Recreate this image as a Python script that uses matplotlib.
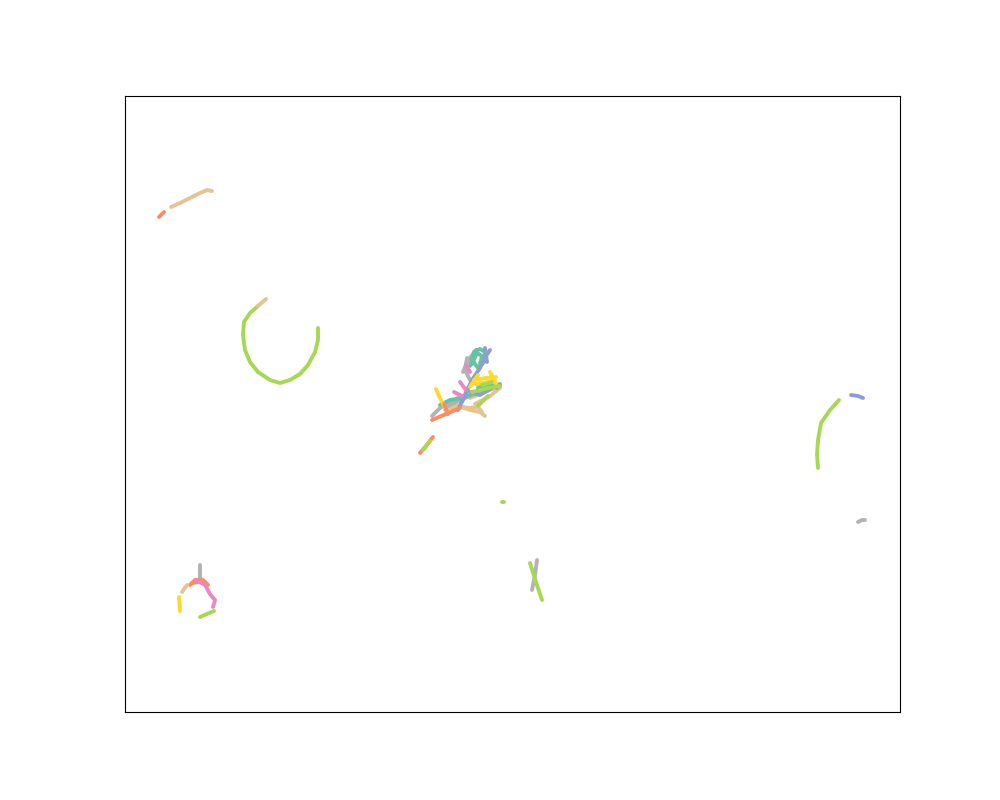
import matplotlib
matplotlib.use("Agg")
import matplotlib.pyplot as plt

# Set2 palette
palette = ["#66c2a5", "#fc8d62", "#8da0cb", "#e78ac3",
           "#a6d854", "#ffd92f", "#e5c494", "#b3b3b3"]
TEAL, ORANGE, BLUE, PINK, GREEN, YELLOW, TAN, GRAY = range(8)

# Track coordinates (x, y), y increasing downward as in the picture
tan_arc_top = [(171, 207), (180, 203), (190, 198), (200, 193), (207, 190), (212, 191)]
orange_top = [(159, 217), (164, 212)]
green_loop = [(318, 328), (318, 340), (315, 352), (308, 365), (300, 374), (290, 380),
              (280, 383), (270, 380), (258, 372), (250, 362), (245, 350), (243, 335),
              (244, 322), (250, 313), (258, 306)]
tan_loop_tip = [(258, 306), (266, 299)]

cluster_tracks = [
    (TAN, [(445, 410), (458, 406), (470, 410), (480, 412), (485, 416)]),
    (TAN, [(455, 405), (468, 408), (478, 407), (482, 412)]),
    (TAN, [(470, 398), (485, 392), (500, 386)]),
    (TAN, [(475, 404), (490, 396), (500, 388)]),
    (GRAY, [(467, 358), (465, 370), (470, 380), (478, 385)]),
    (GRAY, [(463, 372), (468, 360), (475, 352)]),
    (GRAY, [(432, 416), (440, 408), (450, 402), (458, 398)]),
    (GRAY, [(448, 406), (465, 398), (480, 392), (492, 386)]),
    (TEAL, [(470, 366), (474, 352), (480, 349), (485, 352), (484, 362), (478, 368), (472, 360), (476, 350)]),
    (TEAL, [(472, 364), (477, 353), (482, 356), (480, 364)]),
    (TEAL, [(440, 405), (450, 400), (462, 398), (470, 395)]),
    (TEAL, [(478, 388), (490, 384), (497, 388)]),
    (BLUE, [(458, 410), (465, 395), (472, 380), (480, 368), (486, 356), (490, 350)]),
    (BLUE, [(485, 348), (487, 362)]),
    (BLUE, [(462, 402), (468, 388), (475, 378)]),
    (BLUE, [(470, 392), (480, 395), (492, 388), (500, 384)]),
    (YELLOW, [(436, 389), (440, 398), (444, 406)]),
    (YELLOW, [(474, 380), (486, 378), (496, 377)]),
    (YELLOW, [(476, 384), (488, 382), (495, 380)]),
    (YELLOW, [(490, 372), (496, 384)]),
    (YELLOW, [(470, 387), (478, 375)]),
    (PINK, [(460, 382), (466, 390)]),
    (PINK, [(454, 392), (462, 396)]),
    (PINK, [(466, 365), (470, 372)]),
    (GREEN, [(472, 392), (488, 388), (500, 386)]),
    (GREEN, [(478, 406), (488, 396)]),
    (GREEN, [(482, 385), (492, 382)]),
    (ORANGE, [(432, 420), (446, 414), (460, 408)]),
    (ORANGE, [(444, 404), (448, 414)]),
]

orange_below = [(420, 453), (426, 446), (433, 437)]
green_below = [(423, 450), (430, 441)]
green_dot = [(502, 502), (504, 502)]
green_cross = [(530, 563), (536, 582), (542, 600)]
gray_cross = [(537, 560), (535, 575), (532, 590)]

ring_tracks = [
    (GRAY, [(200, 565), (200, 578), (205, 583)]),
    (ORANGE, [(190, 585), (195, 580), (203, 580), (208, 585)]),
    (ORANGE, [(192, 583), (200, 582)]),
    (PINK, [(196, 580), (205, 585), (210, 594), (215, 600), (213, 607)]),
    (GREEN, [(200, 617), (214, 611)]),
    (YELLOW, [(179, 597), (180, 611)]),
    (TAN, [(182, 592), (187, 585)]),
]

green_right = [(839, 400), (830, 410), (821, 423), (818, 440), (817, 455), (818, 468)]
blue_right = [(851, 395), (858, 396), (863, 398)]
gray_right = [(858, 522), (862, 520), (865, 520)]

fig, ax = plt.subplots(figsize=(10, 8), dpi=100)

def draw(pts, ci):
    xs = [p[0] for p in pts]
    ys = [p[1] for p in pts]
    ax.plot(xs, ys, color=palette[ci], lw=2.8, solid_capstyle="round",
            solid_joinstyle="round")

draw(tan_arc_top, TAN)
draw(orange_top, ORANGE)
draw(green_loop, GREEN)
draw(tan_loop_tip, TAN)
for ci, pts in cluster_tracks:
    draw(pts, ci)
draw(orange_below, ORANGE)
draw(green_below, GREEN)
draw(green_dot, GREEN)
draw(gray_cross, GRAY)
draw(green_cross, GREEN)
for ci, pts in ring_tracks:
    draw(pts, ci)
draw(green_right, GREEN)
draw(blue_right, BLUE)
draw(gray_right, GRAY)

ax.set_xlim(125, 900)
ax.set_ylim(712, 96)
ax.set_xticks([])
ax.set_yticks([])
fig.savefig("out.png", dpi=100)
